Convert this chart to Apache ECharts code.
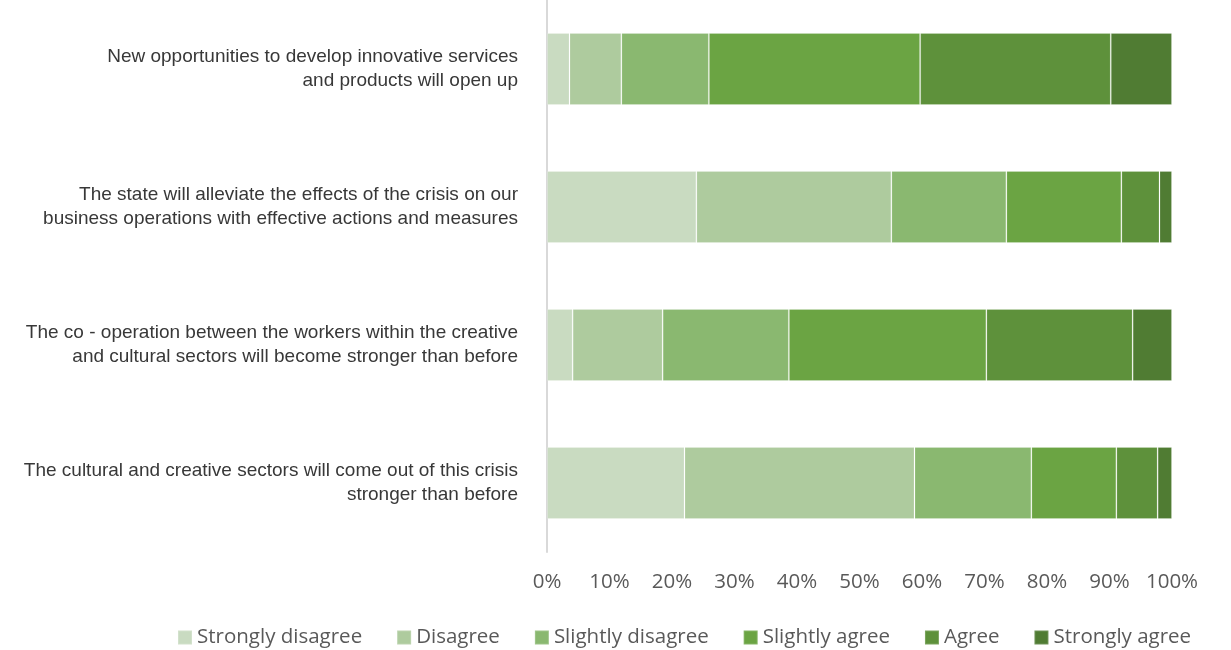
<!DOCTYPE html>
<html>
<head>
<meta charset="utf-8">
<title>Expectations of the cultural and creative sectors</title>
<script src="https://cdn.jsdelivr.net/npm/echarts@6/dist/echarts.min.js"></script>
<style>
  html, body { margin: 0; padding: 0; background: #ffffff; }
  #chart { width: 1231px; height: 650px; }
</style>
</head>
<body>
<div id="chart"></div>
<script>
// Statements, listed top to bottom
const categories = [
  'New opportunities to develop innovative services\nand products will open up',
  'The state will alleviate the effects of the crisis on our\nbusiness operations with effective actions and measures',
  'The co - operation between the workers within the creative\nand cultural sectors will become stronger than before',
  'The cultural and creative sectors will come out of this crisis\nstronger than before'
];

// Answer scale and its colours
const answers = ['Strongly disagree', 'Disagree', 'Slightly disagree', 'Slightly agree', 'Agree', 'Strongly agree'];
const answerColors = ['#c9dbc1', '#aecb9e', '#8ab870', '#6ba443', '#5e913b', '#507c33'];

// Share of respondents (%) per answer, in statement order
const stronglyDisagree = [3.6, 23.9, 4.1, 22.0];
const disagree         = [8.3, 31.2, 14.4, 36.8];
const slightlyDisagree = [14.0, 18.4, 20.2, 18.7];
const slightlyAgree    = [33.8, 18.4, 31.6, 13.6];
const agree            = [30.5, 6.1, 23.4, 6.6];
const stronglyAgree    = [9.8, 2.0, 6.3, 2.3];

const xTicks = ['0%', '10%', '20%', '30%', '40%', '50%', '60%', '70%', '80%', '90%', '100%'];

const seriesValues = [stronglyDisagree, disagree, slightlyDisagree, slightlyAgree, agree, stronglyAgree];

const chart = echarts.init(document.getElementById('chart'), null, { renderer: 'canvas' });

chart.setOption({
  animation: false,
  backgroundColor: '#ffffff',
  color: answerColors,
  grid: { left: 547, right: 59, top: -3, height: 555, containLabel: false },
  xAxis: {
    type: 'value',
    min: 0,
    max: 100,
    interval: 10,
    splitLine: { show: false },
    axisLine: { show: false },
    axisTick: { show: false },
    axisLabel: {
      margin: 20,
      color: '#595959',
      fontFamily: '"Open Sans", Lato, sans-serif',
      fontSize: 20.5,
      formatter: function (v) { return xTicks[Math.round(v / 10)]; }
    }
  },
  yAxis: {
    type: 'category',
    inverse: true,
    data: categories,
    axisTick: { show: false },
    axisLine: { show: true, lineStyle: { color: '#d9d9d9', width: 2 } },
    axisLabel: {
      margin: 29,
      align: 'right',
      color: '#383838',
      fontFamily: '"Liberation Sans", Arial, sans-serif',
      fontSize: 19,
      lineHeight: 24
    }
  },
  legend: {
    top: 622,
    left: 172,
    itemWidth: 14,
    itemHeight: 14,
    itemGap: 34,
    icon: 'rect',
    textStyle: {
      color: '#595959',
      fontFamily: '"Open Sans", Lato, sans-serif',
      fontSize: 20.5
    },
    data: answers
  },
  series: answers.map(function (name, i) {
    return {
      name: name,
      type: 'bar',
      stack: 'total',
      barWidth: 72,
      data: seriesValues[i],
      itemStyle: {
        color: answerColors[i],
        borderColor: 'rgba(255,255,255,0.18)',
        borderWidth: 1
      }
    };
  })
});
</script>
</body>
</html>
